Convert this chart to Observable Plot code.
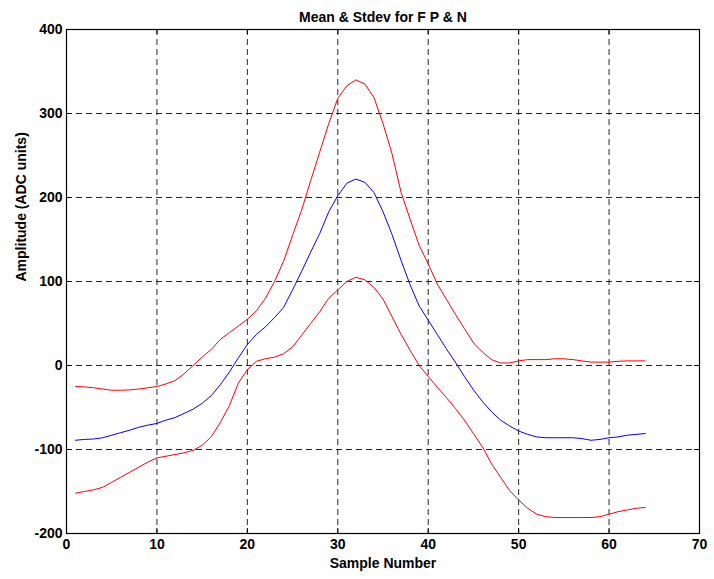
<!DOCTYPE html>
<html>
<head>
<meta charset="utf-8">
<script src="https://cdn.jsdelivr.net/npm/d3@7"></script>
<script src="https://cdn.jsdelivr.net/npm/@observablehq/plot@0.6"></script>
<style>
  html, body { margin: 0; padding: 0; background: #fff; }
</style>
</head>
<body>
<div id="chart"></div>
<script>
const title = "Mean & Stdev for F P & N";
const xLabel = "Sample Number";
const yLabel = "Amplitude (ADC units)";
const xTicks = [0, 10, 20, 30, 40, 50, 60, 70];
const yTicks = [-200, -100, 0, 100, 200, 300, 400];

const samples = d3.range(1, 65);

const meanValues = [
  -89, -88, -87.5, -86, -83, -80, -77, -73.5, -71, -69,
  -65, -62, -57, -52, -45, -36, -23, -8, 9, 25,
  37, 46, 57, 69, 90, 112, 135, 157, 183, 202,
  217, 222, 218, 206, 183, 156, 125, 96, 71, 54,
  37, 20, 4, -13, -29, -43, -55, -65, -72, -78,
  -82, -85, -86, -86, -86, -86, -87, -89, -88, -86,
  -85, -83, -82, -81
];

const upperValues = [
  -25, -25.5, -26.5, -28, -29.5, -29.5, -29, -28, -26.5, -25,
  -22, -18, -10, 0, 10, 19, 31, 39, 47, 55,
  65, 80, 100, 124, 155, 185, 220, 254, 288, 318,
  333, 340, 335, 319, 288, 252, 206, 174, 143, 121,
  97, 79, 61, 44, 27, 16, 7, 3, 3, 5.5,
  7, 7, 7, 8, 8, 7, 5.5, 4, 4, 4,
  5, 5.5, 5.5, 5.5
];

const lowerValues = [
  -152, -150, -148, -145, -139, -133, -127, -121, -115, -110,
  -108, -106, -104, -101, -95, -85, -68, -48, -21, -5,
  5, 8, 10, 14, 22, 36, 50, 64, 80, 90,
  100, 105, 102, 93, 79, 58, 37, 18, 0, -13,
  -26, -38, -51, -65, -81, -97, -117, -133, -149, -160,
  -170, -177, -180, -181, -181, -181, -181, -181, -180, -177,
  -174, -172, -170, -169
];

const mk = (vals) => samples.map((s, i) => ({x: s, y: vals[i]}));
const meanData = mk(meanValues);
const upperData = mk(upperValues);
const lowerData = mk(lowerValues);

const W = 714, H = 579;
const mT = 29, mB = 46, mL = 66, mR = 15;
const fh = H - mT - mB, fw = W - mL - mR;
const tk = 5;
const fs = 14;

const gridX = xTicks.slice(1, -1);
const gridY = yTicks.slice(1, -1);

const chart = Plot.plot({
  width: W,
  height: H,
  marginTop: mT,
  marginBottom: mB,
  marginLeft: mL,
  marginRight: mR,
  style: {fontFamily: "'Liberation Sans', Arial, sans-serif", fontSize: fs + "px", fontWeight: "bold", background: "#fff", color: "#000"},
  x: {domain: [0, 70], ticks: xTicks},
  y: {domain: [-200, 400], ticks: yTicks},
  marks: [
    Plot.ruleX(gridX, {stroke: "#000", strokeDasharray: "6,4", strokeWidth: 1, strokeOpacity: 0.85}),
    Plot.ruleY(gridY, {stroke: "#000", strokeDasharray: "6,4", strokeWidth: 1, strokeOpacity: 0.85}),
    Plot.ruleY([400], {stroke: "#000", strokeDasharray: "6,4", strokeWidth: 1, strokeOpacity: 0.85}),
    // inward ticks
    Plot.ruleX(xTicks, {stroke: "#000", insetTop: fh - tk}),
    Plot.ruleX(xTicks, {stroke: "#000", insetBottom: fh - tk}),
    Plot.ruleY(yTicks, {stroke: "#000", insetRight: fw - tk}),
    Plot.ruleY(yTicks, {stroke: "#000", insetLeft: fw - tk}),
    Plot.line(upperData, {x: "x", y: "y", stroke: "#ff0000", strokeWidth: 1}),
    Plot.line(meanData, {x: "x", y: "y", stroke: "#0000ff", strokeWidth: 1}),
    Plot.line(lowerData, {x: "x", y: "y", stroke: "#ff0000", strokeWidth: 1}),
    Plot.frame({stroke: "#000", strokeWidth: 1.2}),
    Plot.axisX({ticks: xTicks, tickSize: 0, tickPadding: 6, label: null, tickFormat: d => String(d), fontSize: fs, fontWeight: "bold"}),
    Plot.axisY({ticks: yTicks, tickSize: 0, tickPadding: 4, label: null, tickFormat: d => String(d), fontSize: fs, fontWeight: "bold"}),
    Plot.text([title], {frameAnchor: "top", dy: -17, text: d => d, fontSize: fs, fontWeight: "bold"}),
    Plot.text([xLabel], {frameAnchor: "bottom", dy: 34, text: d => d, fontSize: fs, fontWeight: "bold"}),
    Plot.text([yLabel], {frameAnchor: "left", dx: -45, rotate: -90, text: d => d, fontSize: fs, fontWeight: "bold"})
  ]
});
document.getElementById("chart").appendChild(chart);
</script>
</body>
</html>
